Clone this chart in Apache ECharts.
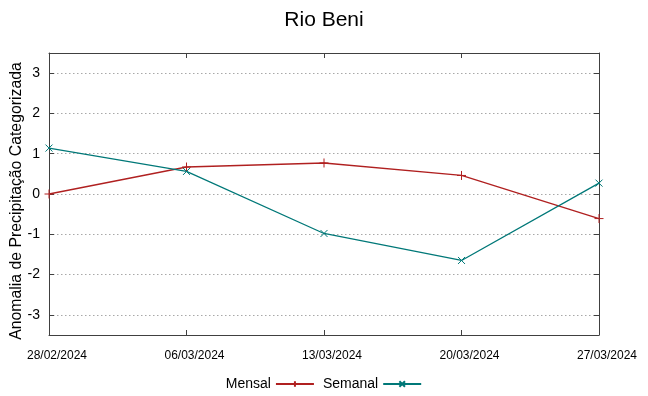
<!DOCTYPE html>
<html><head><meta charset="utf-8">
<script src="https://cdn.jsdelivr.net/npm/echarts@6/dist/echarts.min.js"></script>
<style>html,body{margin:0;padding:0;background:#fff}#c{width:648px;height:396px}</style>
</head><body><div id="c"></div>
<script>
const categories = ['28/02/2024','06/03/2024','13/03/2024','20/03/2024','27/03/2024'];
const mensal = [0.0, 0.67, 0.77, 0.46, -0.61];
const semanal = [1.14, 0.56, -0.98, -1.65, 0.27];
const yTicks = [-3, -2, -1, 0, 1, 2, 3];

const FONT = 'Liberation Sans';
const frame = '#404040';
const redC = '#b02020';
const tealC = '#007878';
const plusPath = 'path://M0,5L10,5M5,0L5,10';
const crossPath = 'path://M0,0L10,10M10,0L0,10';

const chart = echarts.init(document.getElementById('c'), null, {renderer: 'canvas'});
const yCommon = {
  type: 'value', min: -3.5, max: 3.5,
  axisLine: {show: true, lineStyle: {color: frame, width: 1}},
  axisTick: {show: true, inside: true, length: 5, customValues: yTicks, lineStyle: {color: frame}},
};
chart.setOption({
  animation: false,
  backgroundColor: '#fff',
  title: {text: 'Rio Beni', left: 'center', top: 5,
    textStyle: {fontFamily: FONT, fontSize: 21, fontWeight: 'normal', color: '#000'}},
  grid: {left: 49, right: 49, top: 53, bottom: 61, containLabel: false, outerBoundsMode: 'none'},
  legend: {
    bottom: 0, left: 'center', align: 'right', itemGap: 8, itemWidth: 38, itemHeight: 7,
    textStyle: {fontFamily: FONT, fontSize: 14, color: '#000'},
    data: ['Mensal', 'Semanal']
  },
  xAxis: [{
    type: 'category', data: categories, boundaryGap: false, position: 'bottom',
    axisLine: {show: true, onZero: false, lineStyle: {color: frame}},
    axisTick: {show: true, inside: true, length: 5, alignWithLabel: true, lineStyle: {color: frame}},
    axisLabel: {fontFamily: FONT, fontSize: 12, color: '#000', margin: 15, interval: 0, padding: [0, 0, 0, 16]},
    splitLine: {show: false}
  }, {
    type: 'category', data: categories, boundaryGap: false, position: 'top',
    axisLine: {show: true, onZero: false, lineStyle: {color: frame}},
    axisTick: {show: true, inside: true, length: 5, lineStyle: {color: frame}},
    axisLabel: {show: false}, splitLine: {show: false}
  }],
  yAxis: [Object.assign({}, yCommon, {
    position: 'left',
    name: 'Anomalia de Precipitação Categorizada', nameLocation: 'middle', nameGap: 24,
    nameMoveOverlap: false,
    nameTextStyle: {fontFamily: FONT, fontSize: 15.8, color: '#000', padding: [0, 14, 0, 0]},
    axisLabel: {show: true, customValues: yTicks, fontFamily: FONT, fontSize: 14, color: '#000', margin: 9},
    splitLine: {show: true, lineStyle: {color: '#a8a8a8', type: [1.5, 2.5], width: 1}}
  }), Object.assign({}, yCommon, {
    position: 'right',
    axisLabel: {show: false}, splitLine: {show: false}
  })],
  series: [{
    name: 'Mensal', type: 'line', data: mensal,
    xAxisIndex: 0, yAxisIndex: 0,
    symbol: plusPath, symbolSize: 9, showSymbol: true,
    lineStyle: {color: redC, width: 1.3},
    itemStyle: {color: 'rgba(0,0,0,0)', borderColor: redC, borderWidth: 1},
    emphasis: {disabled: true}
  }, {
    name: 'Semanal', type: 'line', data: semanal,
    xAxisIndex: 0, yAxisIndex: 0,
    symbol: crossPath, symbolSize: 7, showSymbol: true,
    lineStyle: {color: tealC, width: 1.3},
    itemStyle: {color: 'rgba(0,0,0,0)', borderColor: tealC, borderWidth: 1},
    emphasis: {disabled: true}
  }]
});
</script></body></html>
